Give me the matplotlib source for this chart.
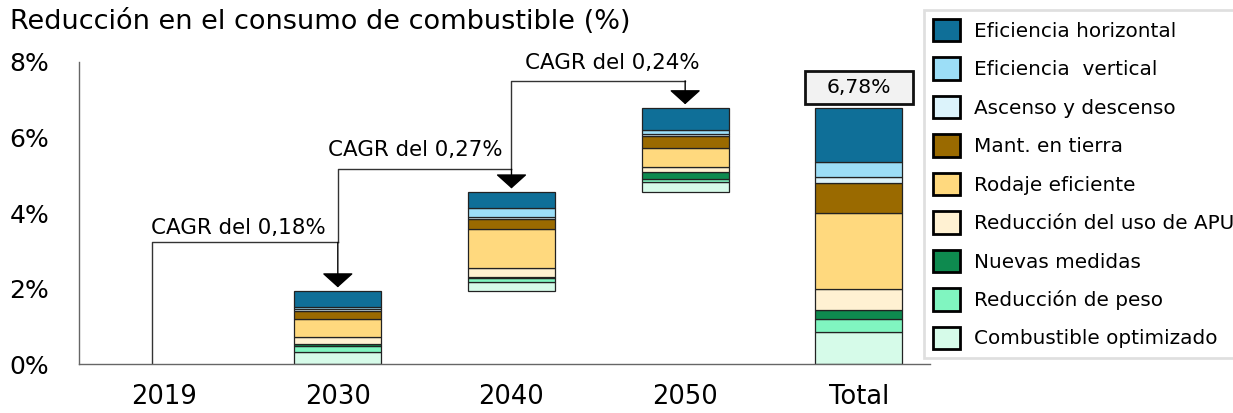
import numpy as np
import matplotlib.pyplot as plt
from matplotlib.patches import Patch, Rectangle

plt.rcParams['font.family'] = ['DejaVu Sans']

years = ['2019', '2030', '2040', '2050', 'Total']

# stacking order, bottom to top
measures = ['Combustible optimizado', 'Reducción de peso', 'Nuevas medidas',
            'Reducción del uso de APU', 'Rodaje eficiente', 'Mant. en tierra',
            'Ascenso y descenso', 'Eficiencia  vertical', 'Eficiencia horizontal']
colors = ['#d6fbe9', '#80f5c0', '#0e8a4f', '#fff1d2', '#ffd97e', '#9a6a00',
          '#dcf3fb', '#9cdef7', '#0f6f98']

# reduction added in each period (%), same order as measures
step_2030 = [0.33, 0.16, 0.04, 0.18, 0.49, 0.21, 0.04, 0.06, 0.42]
step_2040 = [0.25, 0.10, 0.03, 0.24, 1.02, 0.26, 0.07, 0.22, 0.43]
step_2050 = [0.27, 0.09, 0.17, 0.13, 0.50, 0.32, 0.06, 0.11, 0.58]

cagr_labels = ['CAGR del 0,18%', 'CAGR del 0,27%', 'CAGR del 0,24%']

steps = np.array([step_2030, step_2040, step_2050])
total = steps.sum(axis=0)

fig = plt.figure(figsize=(12.33, 4.13), dpi=100)
ax = fig.add_axes([0.0641, 0.1186, 0.6902, 0.7313])

edge = '#222222'
width = 0.5

# floating bars for each period
base = 0.0
tops = []
for i, step in enumerate(steps):
    bottom = base
    for v, c in zip(step, colors):
        ax.bar(i + 1, v, width, bottom=bottom, color=c, edgecolor=edge, linewidth=0.9, zorder=2)
        bottom += v
    base = bottom
    tops.append(base)

# total bar
bottom = 0.0
for v, c in zip(total, colors):
    ax.bar(4, v, width, bottom=bottom, color=c, edgecolor=edge, linewidth=0.9, zorder=2)
    bottom += v
grand = total.sum()

box = Rectangle((4 - 0.31, grand + 0.11), 0.62, 0.87, facecolor='#f2f2f2',
                edgecolor='#111111', linewidth=2, zorder=3, clip_on=False)
ax.add_patch(box)
ax.text(4, grand + 0.545, f'{grand:.2f}%'.replace('.', ','), ha='center', va='center',
        fontsize=14.7, zorder=4)

# CAGR connectors
line_c = '#333333'
levels = [3.22, 5.16, 7.50]
starts = [(-0.07, 0.0), (1, levels[0]), (2, levels[1])]
for k in range(3):
    x0, y0 = starts[k]
    h = levels[k]
    x1 = k + 1
    ax.plot([x0, x0, x1], [y0, h, h], color=line_c, lw=1, zorder=1)
    ax.annotate('', xy=(x1, tops[k] + 0.1), xytext=(x1, h),
                arrowprops=dict(arrowstyle='-|>,head_length=0.9,head_width=1.0',
                                color=line_c, lw=1, shrinkA=0, shrinkB=0,
                                mutation_scale=10, fc='black', ec='black'))

ax.text(1 - 0.07, 3.60, cagr_labels[0], ha='right', va='center', fontsize=15.4)
ax.text(2 - 0.05, 5.67, cagr_labels[1], ha='right', va='center', fontsize=15.4)
ax.text(2 + 0.08, 7.97, cagr_labels[2], ha='left', va='center', fontsize=15.4)

ax.set_xlim(-0.49, 4.41)
ax.set_ylim(0, 8)
ax.set_xticks(range(len(years)))
ax.set_xticklabels(years)
ax.set_yticks([0, 2, 4, 6, 8])
ax.set_yticklabels(['0%', '2%', '4%', '6%', '8%'])
ax.tick_params(axis='both', length=0)
ax.tick_params(axis='x', pad=14.5, labelsize=18.5)
ax.tick_params(axis='y', pad=50, labelsize=18)
for lbl in ax.get_yticklabels():
    lbl.set_ha('left')

for s in ['top', 'right']:
    ax.spines[s].set_visible(False)
for s in ['left', 'bottom']:
    ax.spines[s].set_color('#666666')
    ax.spines[s].set_linewidth(1)

fig.text(10 / 1233, 1 - 22 / 413, 'Reducción en el consumo de combustible (%)',
         ha='left', va='center', fontsize=19.5)

handles = [Patch(facecolor=c, edgecolor='black', linewidth=2, label=n)
           for n, c in zip(measures[::-1], colors[::-1])]
leg = fig.legend(handles=handles, loc='upper left', bbox_to_anchor=(924 / 1233, 1 - 10 / 413),
                 frameon=True, fancybox=False, edgecolor='#d8d8d8', fontsize=14.4,
                 handlelength=1.35, handleheight=1.35, handletextpad=0.7,
                 labelspacing=0.80, borderpad=0.45, borderaxespad=0)
leg.get_frame().set_linewidth(2)

fig.savefig('out.png', dpi=100)
